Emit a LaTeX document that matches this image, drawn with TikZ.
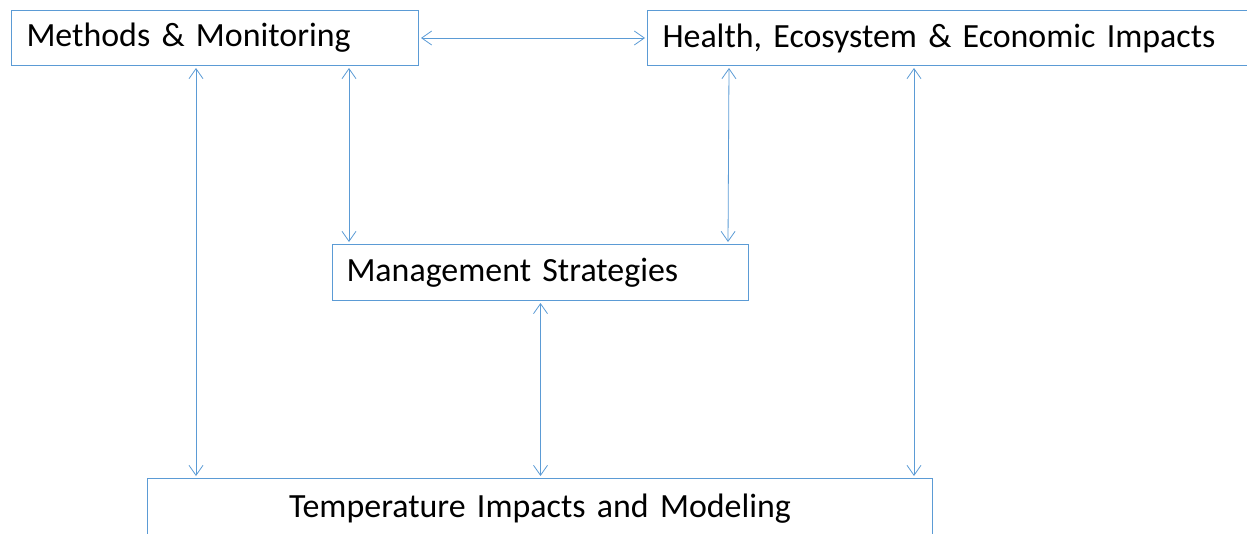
\documentclass[tikz,border=0pt]{standalone}
\usepackage{fontspec}
\setmainfont{Carlito}
\usetikzlibrary{arrows.meta}

\definecolor{boxblue}{HTML}{5B9BD5}

\tikzset{
  topic/.style={draw=boxblue, line width=1pt, minimum height=55pt, inner xsep=15pt,
    font=\fontsize{33.9}{40}\selectfont, anchor=north west},
  link/.style={boxblue, line width=0.8pt, shorten <=2pt, shorten >=2pt,
    {Straight Barb[length=10pt,width=14pt]}-{Straight Barb[length=10pt,width=14pt]}}
}

\begin{document}
\begin{tikzpicture}[x=1pt, y=-1pt]

% Page
\clip (0,0) rectangle (1247,533);
\useasboundingbox (0,0) rectangle (1247,533);

% Boxes
\node[topic, text width=377pt, align=left] (mm) at (11,10) {Methods \& Monitoring};
\node[topic, text width=590pt, align=left] (health) at (647,10) {Health, Ecosystem \& Economic Impacts};
\node[topic, inner xsep=14pt, text width=388pt, align=left, minimum height=56pt] (mgmt) at (332,244) {Management Strategies};
\node[topic, text width=755pt, align=center, minimum height=60pt] (temp) at (147,478) {Temperature Impacts and Modeling};

% Two-way links
\draw[link] (mm.east) -- (health.west);
\draw[link] ([xshift=185pt]mm.south west) -- ([xshift=185pt]mm.south west |- temp.north);
\draw[link] ([xshift=338pt]mm.south west) -- ([xshift=338pt]mm.south west |- mgmt.north);
\draw[link] ([xshift=82pt]health.south west) -- ([xshift=-21pt]mgmt.north east);
\draw[link] ([xshift=267pt]health.south west) -- ([xshift=267pt]health.south west |- temp.north);
\draw[link] (mgmt.south) -- (mgmt.south |- temp.north);

\end{tikzpicture}
\end{document}
